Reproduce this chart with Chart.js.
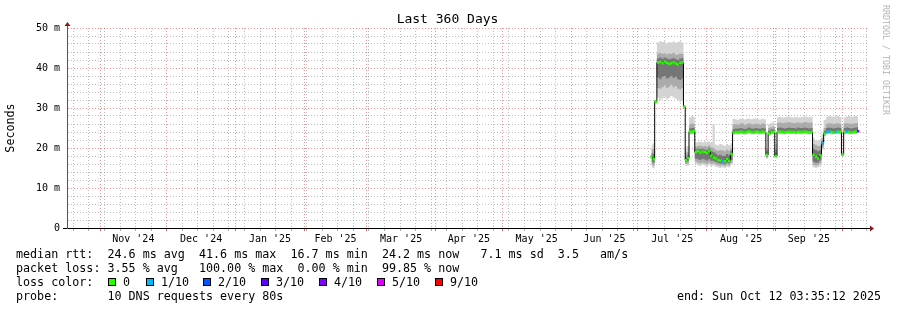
<!DOCTYPE html>
<html>
<head>
    <title>Last 360 Days</title>
    <script src="https://cdn.jsdelivr.net/npm/chart.js"></script>
    <style>
        body {
            margin: 0;
            background: #fff;
            font-family: "DejaVu Sans Mono", monospace;
            color: #000;
        }
        #wrap {
            position: relative;
            width: 897px;
            height: 310px;
            overflow: hidden;
        }
        #chart {
            position: absolute;
            left: 0;
            top: 0;
        }
        .txt {
            position: absolute;
            white-space: pre;
            font-size: 11.7px;
            line-height: 14px;
        }
        #title {
            position: absolute;
            left: 0;
            width: 895px;
            top: 11px;
            text-align: center;
            font-size: 13px;
            line-height: 16px;
        }
        #mark {
            position: absolute;
            left: 891px;
            top: 5px;
            transform: rotate(90deg);
            transform-origin: left top;
            font-size: 8.3px;
            line-height: 10px;
            color: #b4b4b4;
            white-space: pre;
        }
        .box {
            position: absolute;
            width: 8px;
            height: 8px;
            box-sizing: border-box;
            border: 1px solid #000;
        }
    </style>
</head>
<body>
<div id="wrap">
    <canvas id="chart" width="897" height="310"></canvas>
    <div id="title">Last 360 Days</div>
    <div id="mark">RRDTOOL / TOBI OETIKER</div>
    <div class="txt" style="left:16px;top:247px">median rtt:  24.6 ms avg  41.6 ms max  16.7 ms min  24.2 ms now   7.1 ms sd  3.5   am/s</div>
    <div class="txt" style="left:16px;top:261px">packet loss: 3.55 % avg   100.00 % max  0.00 % min  99.85 % now</div>
    <div class="txt" style="left:16px;top:275px">loss color:</div>
    <div id="lossLegend"></div>
    <div class="txt" style="left:16px;top:289px">probe:       10 DNS requests every 80s</div>
    <div class="txt" style="right:16px;top:289px">end: Sun Oct 12 03:35:12 2025</div>
</div>

<script>
// days since start of window (Thu Oct 17 2024 03:35), 360 days shown
const days = [263, 264, 264.9, 266, 267, 268, 269, 270, 271, 272, 273, 274, 275, 276, 277, 277.8,
    278.6, 279.5, 280.3, 281.2, 282, 283, 284, 285, 286, 287, 288, 289, 290, 291, 292, 293, 294, 295,
    296, 297, 298, 299, 300, 301, 302, 303, 304, 305, 306, 307, 308, 309, 310, 311, 312, 313, 314,
    315, 316, 317, 318, 319, 320, 321, 322, 323, 324, 325, 326, 327, 328, 329, 330, 331, 332, 333,
    334, 335, 336, 337, 338, 339, 340, 341, 342, 343, 344, 345, 346, 347, 348, 349, 350, 351, 352,
    353, 354, 355, 356];

// median rtt, ms
const median = [17.8, 17.2, 31.6, 41.4, 41.5, 41.2, 41.6, 41.3, 41.0, 41.2, 41.4, 41.1, 40.9, 41.3, 41.4, 30.3,
    17.0, 17.5, 24.1, 24.0, 24.2, 19.0, 19.2, 18.9, 19.1, 19.0, 18.8, 19.2, 18.1, 17.6, 17.4, 17.0, 16.8, 16.6,
    16.7, 17.2, 16.8, 18.5, 23.8, 24.0, 23.9, 24.1, 24.0, 23.8, 24.0, 24.2, 24.0, 23.9, 24.1, 24.0, 23.9, 24.1, 24.0,
    18.3, 23.6, 24.0, 24.0, 18.0, 24.0, 24.1, 24.0, 23.9, 24.0, 24.1, 24.0, 24.0, 23.9, 24.1, 24.0, 24.0, 24.1, 24.0,
    23.9, 24.0, 18.3, 17.8, 17.4, 18.2, 21.2, 23.6, 24.0, 24.1, 24.0, 23.9, 24.0, 24.1, 24.0, 18.4, 24.0, 24.1, 24.0,
    23.9, 24.0, 24.1, 24.2];

// lost pings out of 10
const loss = [0, 0, 0, 0, 0, 0, 0, 0, 0, 0, 0, 0, 0, 0, 0, 0,
    0, 0, 0, 0, 0, 0, 0, 0, 0, 0, 0, 0, 0, 0, 0, 0, 0, 1,
    0, 0, 0, 0, 0, 0, 0, 0, 0, 0, 0, 0, 0, 0, 0, 0, 0, 0, 0,
    0, 0, 0, 0, 0, 0, 0, 0, 0, 0, 0, 0, 0, 0, 0, 0, 0, 0, 0,
    0, 0, 0, 0, 0, 0, 1, 0, 1, 1, 0, 0, 1, 0, 0, 0, 0, 1, 0,
    0, 0, 0, 4];

// smoke: spread of the 10 pings
const smokeMin = [15.2, 15.0, 31.2, 32.6, 32.0, 32.4, 32.8, 32.2, 32.5, 33.0, 32.6, 32.3, 32.0, 31.5, 31.8, 30.0,
    15.5, 15.6, 23.5, 23.4, 23.5, 16.0, 15.6, 15.5, 15.8, 15.6, 15.4, 15.7, 15.5, 15.6, 15.3, 15.2, 15.0, 15.2,
    15.0, 15.3, 15.1, 15.8, 23.3, 23.4, 23.4, 23.5, 23.4, 23.3, 23.4, 23.6, 23.4, 23.4, 23.5, 23.4, 23.4, 23.5, 23.4,
    17.3, 23.2, 23.5, 23.5, 17.5, 23.5, 23.5, 23.4, 23.4, 23.5, 23.5, 23.4, 23.5, 23.4, 23.5, 23.4, 23.5, 23.5, 23.4,
    23.4, 23.5, 15.2, 15.0, 15.2, 15.6, 19.5, 23.0, 23.5, 23.5, 23.4, 23.4, 23.5, 23.5, 23.4, 18.0, 23.4, 23.5, 23.4,
    23.4, 23.5, 23.5, 23.6];
const smokeLo = [15.8, 15.6, 31.3, 35.0, 34.8, 35.2, 35.6, 35.0, 35.3, 35.8, 35.2, 35.5, 34.8, 34.6, 35.0, 30.1,
    16.0, 16.1, 23.6, 23.6, 23.7, 16.6, 16.3, 16.2, 16.4, 16.2, 16.0, 16.4, 16.0, 16.1, 15.9, 15.7, 15.6, 15.7,
    15.5, 15.8, 15.6, 16.3, 23.5, 23.6, 23.6, 23.7, 23.6, 23.5, 23.6, 23.8, 23.6, 23.6, 23.7, 23.6, 23.6, 23.7, 23.6,
    17.6, 23.4, 23.6, 23.6, 17.7, 23.7, 23.7, 23.6, 23.6, 23.7, 23.7, 23.6, 23.7, 23.6, 23.7, 23.6, 23.7, 23.7, 23.6,
    23.6, 23.7, 15.8, 15.6, 15.7, 16.2, 20.0, 23.2, 23.7, 23.7, 23.6, 23.6, 23.7, 23.7, 23.6, 18.1, 23.6, 23.7, 23.6,
    23.6, 23.7, 23.7, 23.8];
const smokeCoreLo = [16.6, 16.3, 31.4, 37.6, 37.2, 37.8, 38.0, 37.4, 37.6, 38.0, 37.5, 37.8, 37.2, 37.0, 37.4, 30.2,
    16.5, 16.8, 23.8, 23.8, 23.9, 17.4, 17.2, 17.0, 17.3, 17.1, 16.9, 17.2, 16.8, 16.8, 16.5, 16.3, 16.1, 16.1,
    16.0, 16.4, 16.2, 17.0, 23.6, 23.8, 23.7, 23.9, 23.8, 23.6, 23.8, 24.0, 23.8, 23.7, 23.9, 23.8, 23.7, 23.9, 23.8,
    17.9, 23.5, 23.8, 23.8, 17.8, 23.8, 23.9, 23.8, 23.7, 23.8, 23.9, 23.8, 23.8, 23.7, 23.9, 23.8, 23.8, 23.9, 23.8,
    23.7, 23.8, 16.6, 16.3, 16.4, 16.9, 20.6, 23.4, 23.8, 23.9, 23.8, 23.7, 23.8, 23.9, 23.8, 18.2, 23.8, 23.9, 23.8,
    23.7, 23.8, 23.9, 24.0];
const smokeCoreHi = [18.8, 18.5, 31.8, 42.4, 42.6, 42.3, 42.6, 42.4, 42.2, 42.3, 42.5, 42.2, 42.0, 42.4, 42.5, 30.4,
    17.8, 18.2, 24.9, 25.0, 25.0, 19.6, 19.8, 19.7, 19.8, 19.6, 19.5, 19.9, 19.2, 19.0, 18.6, 18.2, 18.3, 18.0,
    18.0, 18.5, 18.1, 19.3, 24.7, 24.9, 24.8, 25.0, 24.9, 24.7, 24.9, 25.1, 24.9, 24.8, 25.0, 24.9, 24.8, 25.0, 24.9,
    18.8, 24.3, 24.6, 24.6, 18.8, 25.0, 25.1, 25.0, 24.9, 25.0, 25.1, 25.0, 25.0, 24.9, 25.1, 25.0, 25.0, 25.1, 25.0,
    24.9, 25.0, 19.8, 19.5, 19.2, 19.5, 21.8, 24.3, 25.0, 25.1, 25.0, 24.9, 25.0, 25.1, 25.0, 18.6, 25.0, 25.1, 25.0,
    24.9, 25.0, 25.1, 25.2];
const smokeHi = [19.6, 19.8, 31.9, 43.6, 43.8, 43.5, 43.7, 43.4, 43.6, 43.5, 43.8, 43.3, 43.4, 43.6, 43.5, 30.5,
    18.8, 19.0, 25.9, 26.1, 26.0, 20.3, 20.5, 20.6, 20.4, 20.5, 20.4, 20.6, 20.2, 20.0, 19.5, 19.3, 19.5, 19.4,
    19.2, 19.6, 19.3, 20.0, 25.9, 26.0, 25.8, 26.1, 26.2, 25.8, 26.0, 26.2, 26.0, 25.9, 26.1, 26.0, 25.9, 26.1, 26.0,
    19.3, 25.0, 25.2, 25.3, 19.8, 26.3, 26.4, 26.2, 26.3, 26.4, 26.5, 26.3, 26.2, 26.3, 26.4, 26.2, 26.3, 26.5, 26.4,
    26.3, 26.4, 21.0, 20.8, 20.5, 20.5, 22.5, 25.0, 26.0, 26.2, 26.1, 26.0, 26.1, 26.2, 26.0, 18.8, 26.1, 26.2, 26.1,
    26.0, 26.1, 26.2, 26.3];
const smokeMax = [20.8, 21.2, 32.0, 46.4, 46.7, 46.5, 46.6, 46.2, 46.5, 46.4, 46.6, 46.3, 46.5, 46.6, 46.4, 30.6,
    20.3, 20.5, 27.6, 28.0, 27.8, 21.3, 21.5, 21.6, 21.4, 21.7, 21.5, 21.6, 21.3, 26.0, 20.8, 20.6, 21.0, 20.8,
    20.5, 21.0, 20.7, 21.2, 27.3, 27.2, 27.0, 27.3, 27.4, 27.1, 27.3, 27.4, 27.2, 27.3, 27.4, 27.2, 27.1, 27.3, 27.2,
    20.0, 26.0, 26.3, 26.4, 21.0, 27.7, 27.8, 27.6, 27.7, 27.8, 27.9, 27.7, 27.6, 27.8, 27.7, 27.6, 27.8, 27.9, 27.8,
    27.7, 27.8, 22.5, 22.0, 21.8, 22.0, 23.5, 27.0, 27.8, 28.0, 27.9, 27.8, 27.9, 28.0, 27.8, 19.2, 27.7, 27.9, 28.0,
    27.8, 27.9, 28.0, 27.9];

// x axis: month boundaries (days) and their labels, weekly (Sunday) grid
const monthStarts = [14.85, 44.85, 75.85, 106.85, 134.85, 165.85, 195.85, 226.85, 256.85, 287.85, 318.85, 348.85];
const monthLabels = ["Nov '24", "Dec '24", "Jan '25", "Feb '25", "Mar '25", "Apr '25", "May '25", "Jun '25", "Jul '25", "Aug '25", "Sep '25"];
const firstSunday = 2.85;

const yMajor = [0, 10, 20, 30, 40, 50];
const yLabels = ['0', '10 m', '20 m', '30 m', '40 m', '50 m'];

const lossLevels = [0, 1, 2, 3, 4, 5, 9];
const lossNames = ['0', '1/10', '2/10', '3/10', '4/10', '5/10', '9/10'];
const lossColors = ['#26ff00', '#00b8ff', '#0059ff', '#5e00ff', '#7e00ff', '#dd00ff', '#ff0000'];

const GRID_MINOR = 'rgba(145,145,145,0.6)';
const GRID_MAJOR = 'rgba(235,70,70,0.58)';

// loss legend boxes
const legendX = [108, 146, 203, 261, 319, 377, 435];
const lg = document.getElementById('lossLegend');
lossNames.forEach((name, i) => {
    lg.innerHTML += `<div class="box" style="left:${legendX[i]}px;top:278px;background:${lossColors[i]}"></div>` +
        `<div class="txt" style="left:${legendX[i] + 15}px;top:275px">${name}</div>`;
});

// x ticks
const xKind = {};
const xTicks = [];
for (let d = firstSunday; d < 360; d += 7) {
    xKind[d.toFixed(2)] = 'week';
}
monthStarts.forEach(d => { xKind[d.toFixed(2)] = 'month'; });
const labelAt = {};
for (let i = 0; i < monthLabels.length; i++) {
    const mid = (monthStarts[i] + monthStarts[i + 1]) / 2;
    labelAt[mid.toFixed(2)] = monthLabels[i];
    xKind[mid.toFixed(2)] = 'label';
}
Object.keys(xKind).forEach(k => xTicks.push(parseFloat(k)));
xTicks.sort((a, b) => a - b);

function pts(arr) {
    return days.map((d, i) => ({x: d, y: arr[i]}));
}

const markerColors = loss.map(l => lossColors[lossLevels.indexOf(l)]);

const smoke = (arr, fillTo, color) => ({
    data: pts(arr),
    stepped: 'middle',
    borderWidth: 0,
    borderColor: 'rgba(0,0,0,0)',
    pointRadius: 0,
    fill: fillTo === null ? false : fillTo,
    backgroundColor: color
});

const axisDecor = {
    id: 'axisDecor',
    afterDraw(chart) {
        const ctx = chart.ctx;
        const a = chart.chartArea;
        ctx.save();
        ctx.strokeStyle = '#000';
        ctx.lineWidth = 1;
        ctx.beginPath();
        ctx.moveTo(a.right, a.bottom + 0.5);
        ctx.lineTo(a.right + 4, a.bottom + 0.5);
        ctx.stroke();
        ctx.fillStyle = '#8b1a1a';
        ctx.beginPath();
        ctx.moveTo(a.right + 3, a.bottom - 2.5);
        ctx.lineTo(a.right + 7, a.bottom + 0.5);
        ctx.lineTo(a.right + 3, a.bottom + 3.5);
        ctx.closePath();
        ctx.fill();
        ctx.beginPath();
        ctx.moveTo(a.left - 2.5, a.top - 2);
        ctx.lineTo(a.left + 0.5, a.top - 6);
        ctx.lineTo(a.left + 3.5, a.top - 2);
        ctx.closePath();
        ctx.fill();
        ctx.strokeStyle = '#555';
        ctx.beginPath();
        ctx.moveTo(a.left + 0.5, a.top - 2);
        ctx.lineTo(a.left + 0.5, a.top);
        ctx.stroke();
        ctx.restore();
    }
};

Chart.defaults.font.family = '"DejaVu Sans Mono", monospace';
Chart.defaults.color = '#000';

new Chart(document.getElementById('chart'), {
    type: 'line',
    data: {
        datasets: [
            {
                data: pts(median),
                showLine: false,
                pointStyle: 'line',
                pointRadius: 1.25,
                pointBorderWidth: 2.5,
                pointBorderColor: markerColors,
                pointBackgroundColor: markerColors
            },
            {
                data: pts(median),
                stepped: 'middle',
                borderWidth: 1,
                borderColor: '#000',
                pointRadius: 0,
                fill: false
            },
            smoke(smokeCoreHi, 3, '#767676'),
            smoke(smokeCoreLo, null, null),
            smoke(smokeHi, 5, '#ababab'),
            smoke(smokeLo, null, null),
            smoke(smokeMax, 7, '#d3d3d3'),
            smoke(smokeMin, null, null)
        ]
    },
    options: {
        responsive: false,
        animation: false,
        layout: {padding: {top: 28, right: 30, left: 0, bottom: 0}},
        plugins: {
            legend: {display: false},
            tooltip: {enabled: false},
            title: {display: false}
        },
        scales: {
            x: {
                type: 'linear',
                min: 0,
                max: 360,
                afterFit: s => { s.height = 82; },
                afterBuildTicks: s => { s.ticks = xTicks.map(v => ({value: v})); },
                border: {color: '#000', width: 1, dash: [1, 2]},
                grid: {
                    lineWidth: 1,
                    tickLength: 3,
                    color: c => {
                        const k = c.tick ? xKind[c.tick.value.toFixed(2)] : null;
                        return k === 'month' ? GRID_MAJOR : k === 'week' ? GRID_MINOR : 'rgba(0,0,0,0)';
                    },
                    tickColor: c => {
                        const k = c.tick ? xKind[c.tick.value.toFixed(2)] : null;
                        return k === 'month' ? '#e06060' : k === 'week' ? '#b0b0b0' : 'rgba(0,0,0,0)';
                    }
                },
                ticks: {
                    autoSkip: false,
                    maxRotation: 0,
                    minRotation: 0,
                    padding: 2,
                    font: {size: 10},
                    callback: v => labelAt[v.toFixed(2)] || ''
                }
            },
            y: {
                min: 0,
                max: 50,
                afterFit: s => { s.width = 67; },
                afterBuildTicks: s => {
                    const t = [];
                    for (let v = 0; v <= 50; v += 2) t.push({value: v});
                    s.ticks = t;
                },
                border: {color: '#555', width: 1, dash: [1, 2]},
                grid: {
                    lineWidth: 1,
                    tickLength: 4,
                    color: c => {
                        const v = c.tick ? c.tick.value : 0;
                        if (v === 0) return 'rgba(0,0,0,0)';
                        return v % 10 === 0 ? GRID_MAJOR : GRID_MINOR;
                    },
                    tickColor: c => (c.tick && c.tick.value === 0 ? '#000' : 'rgba(0,0,0,0)')
                },
                ticks: {
                    autoSkip: false,
                    padding: 3,
                    font: {size: 10},
                    callback: v => {
                        const i = yMajor.indexOf(v);
                        return i >= 0 ? yLabels[i] : '';
                    }
                },
                title: {
                    display: true,
                    text: 'Seconds',
                    font: {size: 11.7},
                    padding: {top: 4, bottom: 0}
                }
            }
        }
    },
    plugins: [axisDecor]
});
</script>
</body>
</html>
